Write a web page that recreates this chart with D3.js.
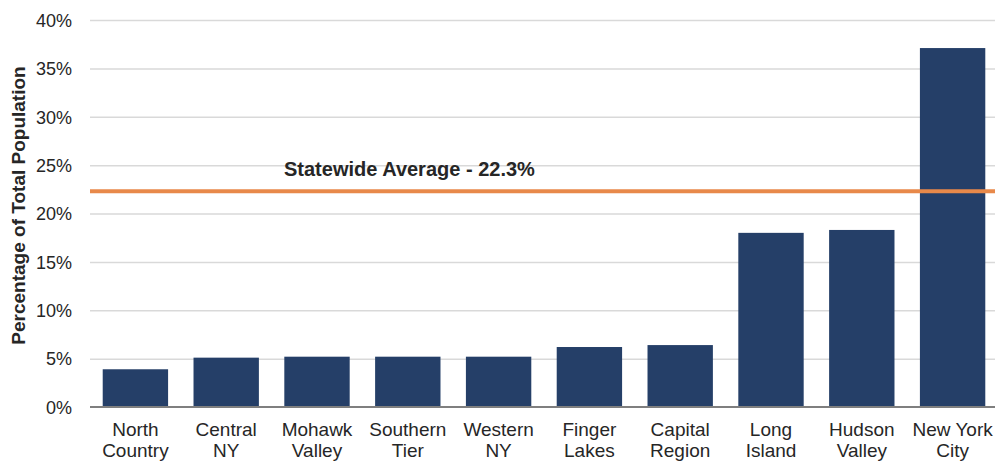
<!DOCTYPE html>
<html>
<head>
<meta charset="utf-8">
<script src="https://cdn.jsdelivr.net/npm/d3@7"></script>
<style>
	body { margin: 0; background: #fff; }
	svg text { font-family: "Liberation Sans", Arial, sans-serif; fill: #262626; }
	.grid line { stroke: #d9d9d9; stroke-width: 1.5; }
	.grid path { display: none; }
	.yaxis path, .yaxis line { display: none; }
</style>
</head>
<body>
<div id="chart"></div>
<script>
var regions = [
	['North', 'Country'], ['Central', 'NY'], ['Mohawk', 'Valley'], ['Southern', 'Tier'],
	['Western', 'NY'], ['Finger', 'Lakes'], ['Capital', 'Region'], ['Long', 'Island'],
	['Hudson', 'Valley'], ['New York', 'City']
];
var shares = [3.9, 5.1, 5.2, 5.2, 5.2, 6.2, 6.4, 18.0, 18.3, 37.1];
var yTicks = [0, 5, 10, 15, 20, 25, 30, 35, 40];
var statewideAvg = 22.3;

var width = 995, height = 462;
var margin = {top: 20, right: -3, bottom: 55, left: 90};
var viewWidth = width - margin.left - margin.right,
	viewHeight = height - margin.top - margin.bottom;

var svg = d3.select('#chart').append('svg')
	.attr('width', width)
	.attr('height', height);

var vis = svg.append('g')
	.attr('transform', 'translate(' + margin.left + ',' + margin.top + ')');

var keys = regions.map(function(d) { return d.join(' '); });

var x = d3.scaleBand()
	.domain(keys)
	.range([0, viewWidth])
	.paddingInner(0.28)
	.paddingOuter(0.14);

var y = d3.scaleLinear()
	.domain([0, 40])
	.range([viewHeight, 0]);

// gridlines
vis.append('g')
	.attr('class', 'grid')
	.call(d3.axisLeft(y).tickValues(yTicks.slice(1)).tickSize(-viewWidth).tickFormat(''));

// y tick labels
vis.append('g')
	.attr('class', 'yaxis')
	.call(d3.axisLeft(y).tickValues(yTicks).tickFormat(function(d) { return d + '%'; }).tickPadding(12))
	.selectAll('text')
	.style('font-size', '18px')
	.attr('dy', '0.35em');

// bars
vis.append('g').selectAll('rect')
	.data(shares)
	.enter().append('rect')
	.attr('x', function(d, i) { return x(keys[i]); })
	.attr('y', function(d) { return y(d); })
	.attr('width', x.bandwidth())
	.attr('height', function(d) { return viewHeight - y(d); })
	.attr('fill', '#253f68');

// baseline
vis.append('line')
	.attr('x1', 0).attr('x2', viewWidth)
	.attr('y1', y(0)).attr('y2', y(0))
	.attr('stroke', '#7f7f7f')
	.attr('stroke-width', 2);

// statewide average
vis.append('line')
	.attr('x1', 0).attr('x2', viewWidth)
	.attr('y1', y(statewideAvg)).attr('y2', y(statewideAvg))
	.attr('stroke', '#e8894a')
	.attr('stroke-width', 4);

vis.append('text')
	.attr('x', 194)
	.attr('y', y(statewideAvg) - 15)
	.style('font-size', '20px')
	.style('font-weight', 'bold')
	.text('Statewide Average - ' + statewideAvg + '%');

// category labels
var cat = vis.append('g').selectAll('text')
	.data(regions)
	.enter().append('text')
	.attr('text-anchor', 'middle')
	.attr('x', function(d, i) { return x(keys[i]) + x.bandwidth() / 2; })
	.attr('y', viewHeight + 29)
	.style('font-size', '19px');
cat.append('tspan')
	.attr('x', function(d, i) { return x(keys[i]) + x.bandwidth() / 2; })
	.text(function(d) { return d[0]; });
cat.append('tspan')
	.attr('x', function(d, i) { return x(keys[i]) + x.bandwidth() / 2; })
	.attr('dy', 21)
	.text(function(d) { return d[1]; });

// y axis title
svg.append('text')
	.attr('transform', 'translate(25,' + (margin.top + viewHeight / 2 - 8) + ') rotate(-90)')
	.attr('text-anchor', 'middle')
	.style('font-size', '19px')
	.style('font-weight', 'bold')
	.text('Percentage of Total Population');
</script>
</body>
</html>
